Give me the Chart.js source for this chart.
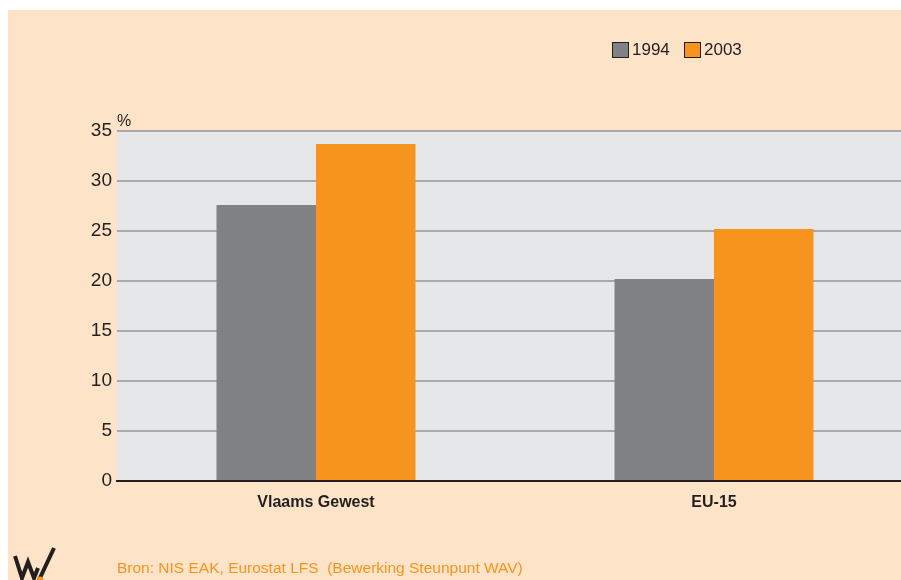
<!DOCTYPE html>
<html>
<head>
<meta charset="utf-8">
<script src="https://cdn.jsdelivr.net/npm/chart.js@4/dist/chart.umd.min.js"></script>
<style>
  html, body { margin: 0; padding: 0; background: #ffffff; }
  #frame { position: absolute; left: 8px; top: 10px; width: 893px; height: 570px;
           background: #fde3c8; overflow: hidden; }
  #chart { position: absolute; left: 0; top: 0; }
</style>
</head>
<body>
<div id="frame"><canvas id="chart" width="905" height="570"></canvas></div>
<script>
let categories = ['Vlaams Gewest', 'EU-15'];
let values1994 = [27.6, 20.2];
let values2003 = [33.7, 25.2];
let yTicks = [0, 5, 10, 15, 20, 25, 30, 35];
let sourceText = 'Bron: NIS EAK, Eurostat LFS  (Bewerking Steunpunt WAV)';

const GREY = '#808285';
const ORANGE = '#f7941d';
const FONT = "'Liberation Sans', Arial, sans-serif";

// background of plot, legend, unit label, source and logo
let decor = {
    id: 'decor',
    beforeDraw(chart) {
        let ctx = chart.ctx, a = chart.chartArea;
        ctx.save();
        ctx.fillStyle = '#e6e7e8';
        ctx.fillRect(a.left, a.top, a.right - a.left, a.bottom - a.top);
        ctx.restore();
    },
    afterDraw(chart) {
        let ctx = chart.ctx, a = chart.chartArea;
        ctx.save();
        // legend
        ctx.font = '17px ' + FONT;
        ctx.textBaseline = 'middle';
        ctx.textAlign = 'left';
        let items = [[chart.data.datasets[0], 604], [chart.data.datasets[1], 676]];
        items.forEach(([ds, x]) => {
            ctx.fillStyle = ds.backgroundColor;
            ctx.fillRect(x + 0.5, 32.5, 16, 15);
            ctx.strokeStyle = '#231f20';
            ctx.lineWidth = 1;
            ctx.strokeRect(x + 0.5, 32.5, 16, 15);
            ctx.fillStyle = '#231f20';
            ctx.fillText(ds.label, x + 20, 40);
        });
        // unit
        ctx.font = '16px ' + FONT;
        ctx.textBaseline = 'alphabetic';
        ctx.fillText('%', a.left, a.top - 5);
        // source
        ctx.fillStyle = ORANGE;
        ctx.font = '15.5px ' + FONT;
        ctx.fillText(sourceText, a.left, 563);
        // logo
        ctx.strokeStyle = '#231f20';
        ctx.lineWidth = 4;
        ctx.lineJoin = 'miter';
        ctx.beginPath();
        ctx.moveTo(7, 546);
        ctx.lineTo(14, 568);
        ctx.lineTo(20, 552);
        ctx.lineTo(26, 568);
        ctx.lineTo(30, 558);
        ctx.stroke();
        ctx.beginPath();
        ctx.moveTo(31, 570);
        ctx.lineTo(46, 538);
        ctx.stroke();
        ctx.fillStyle = ORANGE;
        ctx.beginPath();
        ctx.arc(32, 570, 3.5, 0, Math.PI * 2);
        ctx.fill();
        ctx.restore();
    }
};

let chart = new Chart(document.getElementById('chart').getContext('2d'), {
    type: 'bar',
    data: {
        labels: categories,
        datasets: [
            { label: '1994', data: values1994, backgroundColor: GREY },
            { label: '2003', data: values2003, backgroundColor: ORANGE }
        ]
    },
    options: {
        responsive: false,
        animation: false,
        layout: { padding: { top: 121, left: 0, right: 0, bottom: 0 } },
        plugins: { legend: { display: false }, tooltip: { enabled: false } },
        datasets: { bar: { categoryPercentage: 0.5, barPercentage: 1.0 } },
        scales: {
            x: {
                grid: { display: false, drawTicks: false },
                border: { display: true, color: '#231f20', width: 2 },
                ticks: { color: '#231f20', padding: 12, font: { family: FONT, size: 16, weight: 'bold' } },
                afterFit(s) { s.height = 99; }
            },
            y: {
                min: 0, max: 35,
                afterBuildTicks(s) { s.ticks = yTicks.map(v => ({ value: v })); },
                grid: { color: '#a7a9ac', lineWidth: 2, drawTicks: false },
                border: { display: false },
                ticks: { color: '#231f20', padding: 5, font: { family: FONT, size: 19 } },
                afterFit(s) { s.width = 109; }
            }
        }
    },
    plugins: [decor]
});
</script>
</body>
</html>
